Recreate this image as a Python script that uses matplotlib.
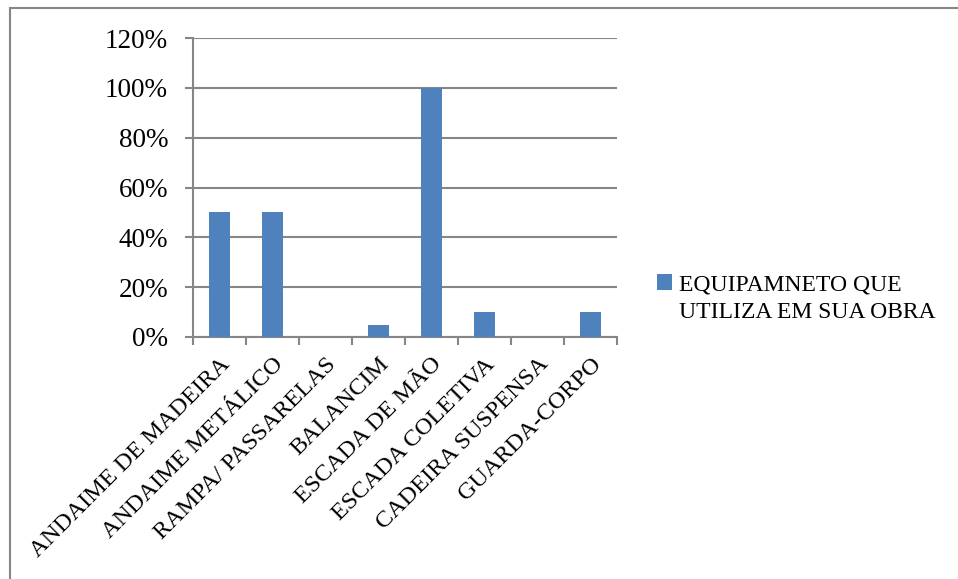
import numpy as np
import matplotlib
matplotlib.use("Agg")
import matplotlib.pyplot as plt
from matplotlib.patches import Rectangle

categories = ["ANDAIME DE MADEIRA", "ANDAIME METÁLICO", "RAMPA/ PASSARELAS", "BALANCIM",
              "ESCADA DE MÃO", "ESCADA COLETIVA", "CADEIRA SUSPENSA", "GUARDA-CORPO"]
values = [0.50, 0.50, 0.0, 0.05, 1.00, 0.10, 0.0, 0.10]
series_name = "EQUIPAMNETO QUE\nUTILIZA EM SUA OBRA"
y_ticks = [0, 0.2, 0.4, 0.6, 0.8, 1.0, 1.2]

plt.rcParams['font.family'] = ['Liberation Serif', 'DejaVu Serif']
grey = '#868686'

fig = plt.figure(figsize=(9.58, 5.79), dpi=100)
# outer chart frame
fig.patches.append(Rectangle((10 / 958, -0.05), 1.0, 1 - 8 / 579 + 0.05, transform=fig.transFigure,
                             fill=False, edgecolor=grey, linewidth=1.5))

ax = fig.add_axes([193 / 958, 1 - 337 / 579, 424 / 958, 299 / 579])
x = np.arange(len(categories))
ax.bar(x, values, width=0.4, color='#4F81BD', label=series_name, zorder=3)

ax.set_xlim(-0.5, len(categories) - 0.5)
ax.set_ylim(0, 1.2)
ax.set_yticks(y_ticks)
ax.set_yticklabels([f"{int(round(v * 100))}%" for v in y_ticks], fontsize=19.5)
ax.yaxis.grid(True, color=grey, linewidth=1.5, zorder=0)

ax.set_xticks(np.arange(len(categories) + 1) - 0.5)
ax.set_xticklabels([])
ax.set_xticks(x, minor=True)
ax.set_xticklabels(categories, minor=True, rotation=45, ha='right', va='top',
                   rotation_mode='anchor', fontsize=17.5)
ax.tick_params(axis='x', which='minor', length=0, pad=12)
ax.tick_params(axis='x', which='major', length=6, color=grey, width=1.5)
ax.tick_params(axis='y', length=6, color=grey, width=1.5, pad=12)

for s in ['top', 'right']:
    ax.spines[s].set_visible(False)
for s in ['left', 'bottom']:
    ax.spines[s].set_color(grey)
    ax.spines[s].set_linewidth(1.5)

leg = ax.legend(loc='upper left', bbox_to_anchor=(657 / 958, 1 - 274 / 579), bbox_transform=fig.transFigure,
                frameon=False, fontsize=17, handlelength=0.65, handleheight=0.65, handletextpad=0.3,
                borderpad=0, borderaxespad=0)
leg.get_texts()[0].set_linespacing(1.45)
# put the colour square level with the first line of the label
for row in leg._legend_handle_box.get_children():
    for pack in row.get_children():
        pack.align = 'top'

fig.savefig('out.png', dpi=100)
